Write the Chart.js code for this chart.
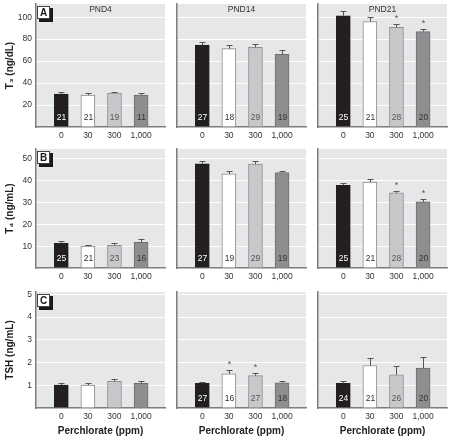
<!DOCTYPE html>
<html>
<head>
<meta charset="utf-8">
<script src="https://cdn.jsdelivr.net/npm/chart.js@4"></script>
<style>
  body { margin: 0; background: #fff; }
  #wrap { position: relative; width: 452px; height: 440px; }
  #wrap canvas { position: absolute; }
</style>
</head>
<body>
<div id="wrap"></div>
<script>
'use strict';

var doses = ['0', '30', '300', '1,000'];
var ages = ['PND4', 'PND14', 'PND21'];
var panelLetters = ['A', 'B', 'C'];
var yTitles = ['T₃ (ng/dL)', 'T₄ (ng/mL)', 'TSH (ng/mL)'];
var xTitle = 'Perchlorate (ppm)';

// one inner array per age (PND4, PND14, PND21), one value per dose
var t3Mean = [[30.0, 29.1, 30.9, 29.1], [74.6, 71.3, 72.5, 66.1], [101.2, 96.0, 90.8, 86.9]];
var t3Err = [[1.8, 1.5, 0.8, 1.8], [2.5, 3.0, 2.7, 3.6], [4.0, 4.3, 2.8, 2.7]];
var t3N = [[21, 21, 19, 11], [27, 18, 29, 19], [25, 21, 28, 20]];
var t3Sig = [[0, 0, 0, 0], [0, 0, 0, 0], [0, 0, 1, 1]];

var t4Mean = [[11.3, 10.0, 10.4, 11.8], [47.7, 43.1, 47.6, 43.7], [37.9, 39.3, 34.4, 30.3]];
var t4Err = [[0.9, 0.5, 0.9, 1.4], [1.5, 1.5, 1.3, 0.9], [0.9, 1.4, 0.9, 1.5]];
var t4N = [[25, 21, 23, 16], [27, 19, 29, 19], [25, 21, 28, 20]];
var t4Sig = [[0, 0, 0, 0], [0, 0, 0, 0], [0, 0, 1, 1]];

var tshMean = [[1.01, 1.01, 1.17, 1.08], [1.08, 1.50, 1.42, 1.11], [1.08, 1.87, 1.46, 1.75]];
var tshErr = [[0.07, 0.08, 0.10, 0.12], [0.06, 0.15, 0.10, 0.06], [0.09, 0.31, 0.37, 0.49]];
var tshN = [[null, null, null, null], [27, 16, 27, 18], [24, 21, 26, 20]];
var tshSig = [[0, 0, 0, 0], [0, 1, 1, 0], [0, 0, 0, 0]];

var yMax = [112, 54.5, 5.1];
var yStep = [20, 10, 1];

var means = [t3Mean, t4Mean, tshMean];
var errs = [t3Err, t4Err, tshErr];
var counts = [t3N, t4N, tshN];
var sigs = [t3Sig, t4Sig, tshSig];

// layout
var colLeft = [0, 141, 282];
var canvasW = 168;
var rowTop = [0, 145, 286];
var rowH = [145, 141, 154];
var padTop = [4, 4, 6];
var xAxisH = [18, 18, 32];

var barFill = ['#231f20', '#ffffff', '#c7c8ca', '#8d8e90'];
var barLine = ['#231f20', '#8a8a8a', '#8f9092', '#6d6e70'];
var nColor = ['#ffffff', '#333333', '#555555', '#333333'];
var narrow = "'Liberation Sans Narrow', 'Liberation Sans', Arial, sans-serif";

function decorPlugin(row, col) {
  return {
    id: 'decor' + row + col,
    beforeDraw: function(chart) {
      var a = chart.chartArea;
      var ctx = chart.ctx;
      ctx.save();
      ctx.fillStyle = '#e6e7e8';
      ctx.fillRect(a.left, a.top, a.right - a.left, a.bottom - a.top);
      ctx.restore();
    },
    afterDatasetsDraw: function(chart) {
      var a = chart.chartArea;
      var ctx = chart.ctx;
      var ys = chart.scales.y;
      var bars = chart.getDatasetMeta(0).data;
      var m = means[row][col], e = errs[row][col], n = counts[row][col], s = sigs[row][col];
      ctx.save();
      for (var i = 0; i < bars.length; i++) {
        var x = Math.round(bars[i].x) + 0.5;
        var yb = ys.getPixelForValue(m[i]);
        var yt = Math.round(ys.getPixelForValue(m[i] + e[i])) + 0.5;
        ctx.strokeStyle = '#555555';
        ctx.lineWidth = 1;
        ctx.beginPath();
        ctx.moveTo(x, yb);
        ctx.lineTo(x, yt);
        ctx.moveTo(x - 3, yt);
        ctx.lineTo(x + 3, yt);
        ctx.stroke();
        ctx.textAlign = 'center';
        ctx.textBaseline = 'middle';
        if (s[i]) {
          ctx.fillStyle = '#555555';
          ctx.font = '9px ' + narrow;
          ctx.fillText('*', x, yt - 6);
        }
        if (n[i] !== null) {
          ctx.fillStyle = nColor[i];
          ctx.font = '8.5px ' + narrow;
          ctx.fillText(String(n[i]), x, a.bottom - 9);
        }
      }
      if (row === 0) {
        ctx.fillStyle = '#333333';
        ctx.font = '8.5px ' + narrow;
        ctx.textAlign = 'center';
        ctx.fillText(ages[col], (a.left + a.right) / 2, a.top + 6);
      }
      if (col === 0) {
        var bx = a.left + 1, by = a.top + 2;
        ctx.fillStyle = '#1a1a1a';
        ctx.fillRect(bx + 2, by + 2, 14, 14);
        ctx.fillStyle = '#ffffff';
        ctx.fillRect(bx, by, 13, 13);
        ctx.strokeStyle = '#444444';
        ctx.strokeRect(bx + 0.5, by + 0.5, 12, 12);
        ctx.fillStyle = '#1a1a1a';
        ctx.font = 'bold 10px ' + narrow;
        ctx.fillText(panelLetters[row], bx + 6.5, by + 7);
      }
      ctx.restore();
    }
  };
}

function makePanel(row, col) {
  var wrap = document.getElementById('wrap');
  var canvas = document.createElement('canvas');
  canvas.width = canvasW;
  canvas.height = rowH[row];
  canvas.style.left = colLeft[col] + 'px';
  canvas.style.top = rowTop[row] + 'px';
  wrap.appendChild(canvas);

  var points = [];
  for (var i = 0; i < doses.length; i++) {
    points.push({x: i, y: means[row][col][i]});
  }

  new Chart(canvas, {
    type: 'bar',
    data: {
      datasets: [{
        data: points,
        backgroundColor: barFill,
        borderColor: barLine,
        borderWidth: 1,
        borderSkipped: 'bottom',
        barThickness: 14
      }]
    },
    options: {
      responsive: false,
      animation: false,
      events: [],
      layout: {padding: {top: padTop[row], right: 3, left: 0, bottom: 0}},
      plugins: {legend: {display: false}, tooltip: {enabled: false}},
      scales: {
        x: {
          type: 'linear',
          min: -0.95,
          max: 3.9,
          offset: false,
          grid: {display: false, drawTicks: false, offset: false},
          border: {display: true, color: '#7d7d7d', width: 1.5},
          afterBuildTicks: function(scale) {
            scale.ticks = doses.map(function(d, i) { return {value: i}; });
          },
          afterFit: function(scale) {
            scale.height = xAxisH[row];
            scale.paddingLeft = 0;
            scale.paddingRight = 0;
          },
          ticks: {
            padding: 4,
            color: '#333333',
            font: {family: narrow, size: 8.5},
            maxRotation: 0,
            autoSkip: false,
            callback: function(v) { return doses[v]; }
          },
          title: {
            display: row === 2,
            text: xTitle,
            color: '#222222',
            font: {family: narrow, size: 10, weight: 'bold'},
            padding: {top: 0, bottom: 3}
          }
        },
        y: {
          min: 0,
          max: yMax[row],
          grid: {color: '#ffffff', lineWidth: 1, drawTicks: false},
          border: {display: true, color: '#7d7d7d', width: 1.5},
          afterFit: function(scale) {
            scale.width = 36;
            scale.paddingTop = 0;
            scale.paddingBottom = 0;
          },
          ticks: {
            display: col === 0,
            stepSize: yStep[row],
            includeBounds: false,
            padding: 4,
            color: '#333333',
            font: {family: narrow, size: 8.5},
            callback: function(v) { return v === 0 ? '' : v; }
          },
          title: {
            display: col === 0,
            text: yTitles[row],
            color: '#222222',
            font: {family: narrow, size: 10, weight: 'bold'},
            padding: {top: 4, bottom: 0}
          }
        }
      }
    },
    plugins: [decorPlugin(row, col)]
  });
}

for (var r = 0; r < 3; r++) {
  for (var c = 0; c < 3; c++) {
    makePanel(r, c);
  }
}
</script>
</body>
</html>
